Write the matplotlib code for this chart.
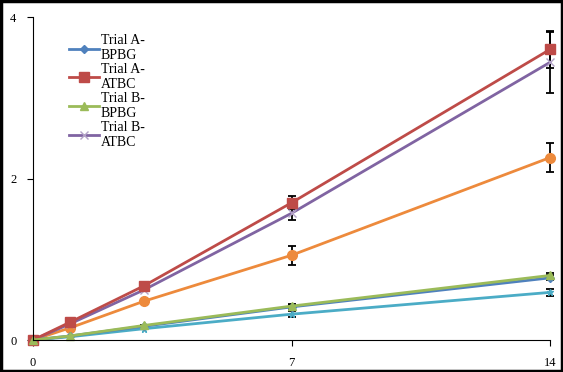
import numpy as np
import matplotlib.pyplot as plt

days = [0, 1, 3, 7, 14]

a_bpbg = [0, 0.05, 0.17, 0.41, 0.77]
a_atbc = [0, 0.22, 0.67, 1.70, 3.60]
b_bpbg = [0, 0.05, 0.18, 0.42, 0.80]
b_atbc = [0, 0.20, 0.62, 1.57, 3.44]
orange = [0, 0.15, 0.48, 1.05, 2.26]
teal = [0, 0.04, 0.14, 0.32, 0.59]

err_a_atbc = [0, 0, 0, 0.08, 0.23]
err_b_atbc = [0, 0, 0, 0.08, 0.38]
err_orange = [0, 0, 0, 0.12, 0.18]
err_teal = [0, 0, 0, 0.04, 0.04]
err_small = [0, 0, 0, 0.02, 0.03]

plt.rcParams['font.family'] = ['Liberation Serif', 'DejaVu Serif']

fig = plt.figure(figsize=(5.63, 3.72), dpi=100)
ax = fig.add_axes([0.0586, 0.086, 0.9184, 0.868])
fig.patches.append(plt.Rectangle((0.002, 0.003), 0.996, 0.994, transform=fig.transFigure,
                                 fill=False, edgecolor='black', linewidth=2.5))

lw = 2
eb = dict(ecolor='black', elinewidth=1.3, capsize=3, capthick=1.3)
ax.errorbar(days, teal, yerr=err_teal, color='#4bacc6', marker='*', markersize=5, lw=lw, **eb)
ax.errorbar(days, orange, yerr=err_orange, color='#ed8a3c', marker='o', markersize=7, lw=lw, **eb)
h1 = ax.errorbar(days, a_bpbg, yerr=err_small, color='#4f81bd', marker='D', markersize=4, lw=lw, **eb)
h4 = ax.errorbar(days, b_atbc, yerr=err_b_atbc, color='#8064a2', marker='x', markersize=6,
                 markeredgecolor='#b3a2c7', lw=lw, **eb)
h2 = ax.errorbar(days, a_atbc, yerr=err_a_atbc, color='#be4b48', marker='s', markersize=7, lw=lw, **eb)
h3 = ax.errorbar(days, b_bpbg, yerr=err_small, color='#9bbb59', marker='^', markersize=6, lw=lw, **eb)

ax.legend([h1[0], h2[0], h3[0], h4[0]],
          ['Trial A-\nBPBG', 'Trial A-\nATBC', 'Trial B-\nBPBG', 'Trial B-\nATBC'],
          loc='upper left', bbox_to_anchor=(0.045, 0.985), frameon=False, fontsize=10,
          handlelength=2.2, handletextpad=0.1, labelspacing=0.05)

ax.set_xlim(0, 14)
ax.set_ylim(0, 4)
ax.set_xticks([0, 7, 14])
ax.set_yticks([0, 2, 4])
ax.spines['top'].set_visible(False)
ax.spines['right'].set_visible(False)
ax.tick_params(labelsize=9, length=4, pad=8)
for c in ax.get_children():
    c.set_clip_on(False)

fig.savefig('out.png', dpi=100)
